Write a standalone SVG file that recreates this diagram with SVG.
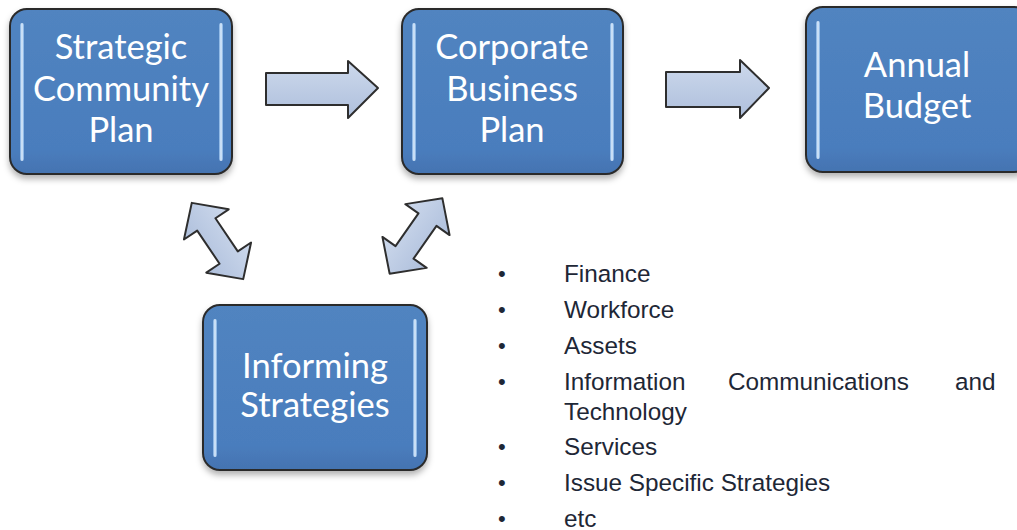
<svg xmlns="http://www.w3.org/2000/svg" width="1017" height="530" viewBox="0 0 1017 530">
<defs>
  <linearGradient id="boxFill" x1="0" y1="0" x2="0" y2="1">
    <stop offset="0" stop-color="#5184c0"/>
    <stop offset="0.85" stop-color="#4a7dbd"/>
    <stop offset="1" stop-color="#4473b1"/>
  </linearGradient>
  <linearGradient id="arrowFill" x1="0" y1="0" x2="0" y2="1">
    <stop offset="0" stop-color="#cdd9ec"/>
    <stop offset="1" stop-color="#aebfdc"/>
  </linearGradient>
  <linearGradient id="glow" x1="0" y1="0" x2="1" y2="0">
    <stop offset="0" stop-color="#9cc8f5" stop-opacity="0.6"/>
    <stop offset="0.5" stop-color="#eaf5ff"/>
    <stop offset="1" stop-color="#9cc8f5" stop-opacity="0.6"/>
  </linearGradient>
  <filter id="shadow" x="-10%" y="-10%" width="120%" height="125%">
    <feDropShadow dx="0" dy="4" stdDeviation="3" flood-color="#000" flood-opacity="0.3"/>
  </filter>
  <path id="dbl" d="M-46,0 L-20,-27 L-20,-11 L20,-11 L20,-27 L46,0 L20,27 L20,11 L-20,11 L-20,27 Z"/>
</defs>
<style>
  .box { fill: url(#boxFill); stroke: #2b2b2b; stroke-width: 2; filter: url(#shadow); }
  .hl { fill: url(#glow); }
  .lbl { font-family: Lato, "Open Sans", sans-serif; font-size: 34.5px; fill: #ffffff; text-anchor: middle; }
  .arr { fill: url(#arrowFill); stroke: #2e2e2e; stroke-width: 2; stroke-linejoin: round; }
  .list { font-family: "Liberation Sans", Arial, sans-serif; font-size: 24.3px; fill: #1e2736; }
  .bul { font-family: "Liberation Sans", Arial, sans-serif; font-size: 22px; fill: #1e2736; }
</style>

<g id="connectors">
  <path class="arr" d="M266,73 L348,73 L348,61 L378,88 L348,118 L348,105 L266,105 Z"/>
  <path class="arr" d="M666,72 L740,72 L740,60 L769,88 L740,118 L740,107 L666,107 Z"/>
  <use href="#dbl" class="arr" transform="translate(217.5,241) rotate(56)"/>
  <use href="#dbl" class="arr" transform="translate(416,236) rotate(-55)"/>
</g>

<g id="node-strategic">
  <rect class="box" x="10" y="9" width="222" height="165" rx="17"/>
  <rect class="hl" x="20" y="23" width="4" height="138" rx="2"/>
  <rect class="hl" x="219" y="23" width="4" height="138" rx="2"/>
  <text class="lbl" x="121" y="59">Strategic</text>
  <text class="lbl" x="121" y="101">Community</text>
  <text class="lbl" x="121" y="142">Plan</text>
</g>

<g id="node-corporate">
  <rect class="box" x="402" y="9" width="221" height="165" rx="17"/>
  <rect class="hl" x="412" y="23" width="4" height="138" rx="2"/>
  <rect class="hl" x="610" y="23" width="4" height="138" rx="2"/>
  <text class="lbl" x="512" y="59">Corporate</text>
  <text class="lbl" x="512" y="101">Business</text>
  <text class="lbl" x="512" y="142">Plan</text>
</g>

<g id="node-annual">
  <rect class="box" x="806" y="7" width="225" height="165" rx="17"/>
  <rect class="hl" x="816" y="21" width="4" height="138" rx="2"/>
  <text class="lbl" x="917" y="77">Annual</text>
  <text class="lbl" x="917" y="118">Budget</text>
</g>

<g id="node-informing">
  <rect class="box" x="203" y="305" width="224" height="165" rx="17"/>
  <rect class="hl" x="213" y="319" width="4" height="138" rx="2"/>
  <rect class="hl" x="413" y="319" width="4" height="138" rx="2"/>
  <text class="lbl" x="315" y="378">Informing</text>
  <text class="lbl" x="315" y="417">Strategies</text>
</g>

<g id="list">
  <text class="bul" x="498" y="281">•</text>
  <text class="list" x="564" y="282">Finance</text>
  <text class="bul" x="498" y="317">•</text>
  <text class="list" x="564" y="318">Workforce</text>
  <text class="bul" x="498" y="353">•</text>
  <text class="list" x="564" y="354">Assets</text>
  <text class="bul" x="498" y="389">•</text>
  <text class="list" x="564" y="390">Information</text>
  <text class="list" x="728" y="390">Communications</text>
  <text class="list" x="955" y="390">and</text>
  <text class="list" x="564" y="420">Technology</text>
  <text class="bul" x="498" y="454">•</text>
  <text class="list" x="564" y="455">Services</text>
  <text class="bul" x="498" y="490">•</text>
  <text class="list" x="564" y="491">Issue Specific Strategies</text>
  <text class="bul" x="498" y="526">•</text>
  <text class="list" x="564" y="527">etc</text>
</g>
</svg>
